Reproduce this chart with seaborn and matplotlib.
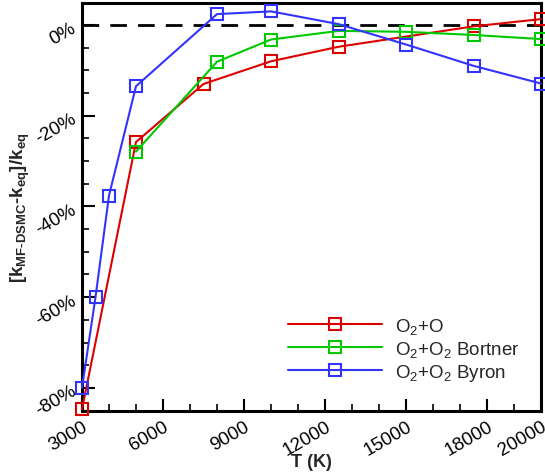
import numpy as np
import pandas as pd
import matplotlib
matplotlib.use("Agg")
import matplotlib.pyplot as plt
import seaborn as sns
from matplotlib.ticker import MultipleLocator, FixedLocator, FuncFormatter

# ---- data (percent) ----
T_o2o = [3000, 5000, 7500, 10000, 12500, 17500, 20000]
err_o2o = [-84.7, -25.8, -13.0, -8.0, -4.8, -0.3, 1.3]

T_bortner = [5000, 8000, 10000, 12500, 15000, 17500, 20000]
err_bortner = [-27.9, -8.1, -3.2, -1.3, -1.5, -2.2, -3.1]

T_byron = [3000, 3500, 4000, 5000, 8000, 10000, 12500, 15000, 17500, 20000]
err_byron = [-80.0, -60.0, -37.6, -13.5, 2.4, 3.0, 0.2, -4.3, -9.0, -12.9]

series_labels = ["O$_2$+O", "O$_2$+O$_2$ Bortner", "O$_2$+O$_2$ Byron"]
colors = ["#dd0000", "#00c800", "#3333ff"]

x_ticks = [3000, 6000, 9000, 12000, 15000, 18000, 20000]
y_ticks = [-80, -60, -40, -20, 0]

sns.set_theme(style="white")
plt.rcParams["font.family"] = ["Liberation Sans", "DejaVu Sans"]
plt.rcParams["mathtext.fontset"] = "custom"
plt.rcParams["mathtext.rm"] = "Liberation Sans"
plt.rcParams["mathtext.it"] = "Liberation Sans:italic"
plt.rcParams["mathtext.bf"] = "Liberation Sans:bold"
plt.rcParams["mathtext.default"] = "regular"

fig = plt.figure(figsize=(5.45, 4.77), dpi=100)
ax = fig.add_axes([82 / 545, 1 - 412 / 477, (541 - 82) / 545, (412 - 4) / 477])

ax.axhline(0, color="black", lw=2, ls=(0, (6, 4)), zorder=1)

for T, e, lab, c in zip([T_o2o, T_bortner, T_byron], [err_o2o, err_bortner, err_byron],
                        series_labels, colors):
    sns.lineplot(x=T, y=e, ax=ax, color=c, marker="s", markersize=9,
                 markerfacecolor="none", markeredgecolor=c, markeredgewidth=1.5,
                 linewidth=1.5, label=lab, clip_on=False, zorder=3)

ax.set_xlim(3000, 20000)
ax.set_ylim(-85.1, 4.85)
ax.xaxis.set_major_locator(FixedLocator(x_ticks))
ax.xaxis.set_minor_locator(MultipleLocator(1000))
ax.yaxis.set_major_locator(FixedLocator(y_ticks))
ax.yaxis.set_minor_locator(MultipleLocator(5))
ax.yaxis.set_major_formatter(FuncFormatter(lambda v, p: f"{int(round(v))}%"))

ax.tick_params(which="both", direction="in", top=False, right=False,
               bottom=True, left=True, colors="black")
ax.tick_params(which="major", length=9, width=1.5, labelsize=13.5)
ax.tick_params(axis="y", which="major", pad=6)
ax.tick_params(axis="x", which="major", pad=5)
ax.tick_params(which="minor", length=5, width=1.2)

for lbl in ax.get_xticklabels():
    lbl.set_rotation(30)
    lbl.set_ha("right")
    lbl.set_va("top")
    lbl.set_rotation_mode("anchor")
for lbl in ax.get_yticklabels():
    lbl.set_rotation(30)
    lbl.set_ha("right")
    lbl.set_va("center_baseline")
    lbl.set_rotation_mode("anchor")

for s in ax.spines.values():
    s.set_color("black")
    s.set_linewidth(2.2)

ax.set_xlabel("T (K)", fontsize=13, fontweight="bold")
ax.xaxis.set_label_coords(0.5, -0.103)
ax.set_ylabel("[k$_{MF\u2010DSMC}$\u2010k$_{eq}$]/k$_{eq}$", fontsize=13.5, fontweight="bold")
ax.yaxis.set_label_coords(-0.11, 0.5)

leg = ax.legend(loc="upper left", bbox_to_anchor=((288 - 82) / 459, (412 - 317) / 408),
                frameon=False, fontsize=13.5, handlelength=5.0, handletextpad=0.7,
                labelspacing=0.15, borderaxespad=0, borderpad=0)

fig.savefig("out.png", dpi=100)
